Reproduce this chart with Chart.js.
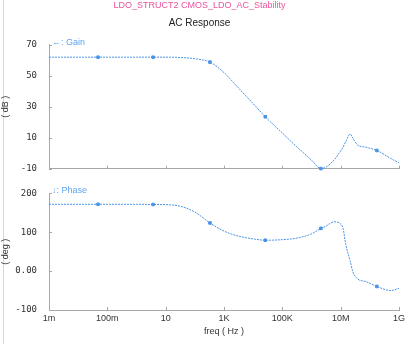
<!DOCTYPE html>
<html>
<head>
<meta charset="utf-8">
<script src="https://cdn.jsdelivr.net/npm/chart.js@4.4.1/dist/chart.umd.min.js"></script>
<style>
  body { margin: 0; background: #fff; }
  #wrap { position: relative; width: 412px; height: 344px; overflow: hidden; background: #fff; }
  #edge { position: absolute; left: 3px; top: 0; width: 1px; height: 344px; background: #d8d8d8; }
  #gainChart { position: absolute; left: 0; top: 0; }
  #phaseChart { position: absolute; left: 0; top: 176px; }
</style>
</head>
<body>
<div id="wrap">
  <div id="edge"></div>
  <canvas id="gainChart" width="412" height="186"></canvas>
  <canvas id="phaseChart" width="412" height="168"></canvas>
</div>
<script>
// values
const freq = [1e-3, 1e-2, 0.048, 1, 3.7, 10, 31.6, 100, 330, 1e3, 3.16e3, 1e4, 2.6e4, 1e5, 3.16e5,
  1e6, 2.1e6, 3.16e6, 5.9e6, 1e7, 1.2e7, 1.5e7, 2.1e7, 2.6e7, 3.8e7, 7.4e7, 1.74e8, 5.3e8, 1e9];
const gainDb = [62, 62, 62, 62, 62, 62, 61.8, 61, 58.8, 52, 42, 32, 23.5, 13, 4,
  -4.5, -10, -9, -4.5, 1.4, 3.8, 7.5, 12.3, 9.7, 5.3, 3.8, 1.7, -3.5, -6.3];
const phaseDeg = [172, 172, 172, 172, 171.5, 171, 167, 152, 124, 103, 90, 83, 79.5, 81, 85,
  96, 110, 116, 127, 121, 111, 68, 27, -1, -20, -27, -39.5, -50, -44];
const markerFreq = [0.048, 3.7, 330, 2.6e4, 2.1e6, 1.74e8];

const freqTicks = [1e-3, 1e-1, 10, 1e3, 1e5, 1e7, 1e9];
const freqTickLabels = ['1m', '100m', '10', '1K', '100K', '10M', '1G'];
const gainTicks = [-10, 10, 30, 50, 70];
const gainTickLabels = ['-10', '10', '30', '50', '70'];
const phaseTicks = [-100, 0, 100, 200];
const phaseTickLabels = ['-100', '0.00', '100', '200'];

const LINE = '#4a93e6';
const AXIS = '#a8a8a8';
const TEXT = '#333';

// small tick marks drawn inside the plot, like the simulator output
const innerTicks = {
  id: 'innerTicks',
  afterDraw(chart) {
    const { ctx, chartArea: a, scales: { x, y } } = chart;
    ctx.save();
    ctx.strokeStyle = AXIS;
    ctx.lineWidth = 1;
    ctx.beginPath();
    x.ticks.forEach(t => {
      const px = Math.round(x.getPixelForValue(t.value)) + 0.5;
      ctx.moveTo(px, a.bottom);
      ctx.lineTo(px, a.bottom - 3);
    });
    y.ticks.forEach(t => {
      const py = Math.round(y.getPixelForValue(t.value)) + 0.5;
      ctx.moveTo(a.left, py);
      ctx.lineTo(a.left + 3, py);
    });
    ctx.stroke();
    ctx.restore();
  }
};

const curveLabel = {
  id: 'curveLabel',
  afterDraw(chart, args, opts) {
    const { ctx, chartArea: a } = chart;
    ctx.save();
    ctx.font = '9px "Liberation Sans"';
    ctx.fillStyle = '#5fa3ee';
    ctx.textBaseline = 'middle';
    ctx.fillText(opts.text, a.left + 3, a.top - opts.dy);
    ctx.restore();
  }
};

function xAxis(showLabels) {
  return {
    type: 'logarithmic',
    min: 1e-3,
    max: 1e9,
    afterBuildTicks: s => { s.ticks = freqTicks.map(v => ({ value: v })); },
    afterFit: s => { s.height = showLabels ? 26 : 0; },
    ticks: {
      display: showLabels,
      autoSkip: false,
      maxRotation: 0,
      padding: 4,
      color: TEXT,
      font: { family: '"Liberation Sans Narrow", "Liberation Sans"', size: 9, lineHeight: 1 },
      callback: v => freqTickLabels[freqTicks.indexOf(v)]
    },
    grid: { display: true, drawOnChartArea: false, drawTicks: false },
    border: { display: true, color: AXIS },
    title: {
      display: showLabels,
      text: 'freq ( Hz )',
      color: TEXT,
      padding: { top: 2, bottom: 0 },
      font: { family: '"Liberation Sans"', size: 9, lineHeight: 1 }
    }
  };
}

function yAxis(min, max, ticks, labels, title) {
  return {
    min: min,
    max: max,
    afterFit: s => { s.width = 49; },
    afterBuildTicks: s => { s.ticks = ticks.map(v => ({ value: v })); },
    ticks: {
      padding: 12,
      color: TEXT,
      font: { family: '"DejaVu Sans Mono"', size: 9 },
      callback: v => labels[ticks.indexOf(v)]
    },
    grid: { display: true, drawOnChartArea: false, drawTicks: false },
    border: { display: true, color: AXIS },
    title: {
      display: true,
      text: title,
      color: TEXT,
      padding: { top: 0, bottom: 0 },
      font: { family: '"Liberation Sans"', size: 9 }
    }
  };
}

function curve(values, label) {
  return {
    label: label,
    data: freq.map((f, i) => ({ x: f, y: values[i] })),
    borderColor: LINE,
    backgroundColor: LINE,
    borderWidth: 1,
    borderDash: [2, 1],
    cubicInterpolationMode: 'monotone',
    pointRadius: ctx => markerFreq.includes(freq[ctx.dataIndex]) ? 1.8 : 0,
    pointStyle: 'rect',
    fill: false,
    clip: 4
  };
}

new Chart(document.getElementById('gainChart'), {
  type: 'line',
  data: { datasets: [curve(gainDb, 'Gain')] },
  options: {
    responsive: false,
    animation: false,
    layout: { padding: { left: 0, right: 13, top: 0, bottom: 11 } },
    plugins: {
      legend: { display: false },
      tooltip: { enabled: false },
      title: {
        display: true,
        text: 'LDO_STRUCT2 CMOS_LDO_AC_Stability',
        color: '#e8559f',
        padding: { top: 0, bottom: 6 },
        font: { family: '"Liberation Sans Narrow", "Liberation Sans"', size: 9, weight: 'normal' }
      },
      subtitle: {
        display: true,
        text: 'AC Response',
        color: '#222',
        padding: { top: 0, bottom: 16 },
        font: { family: '"Liberation Sans"', size: 10 }
      },
      curveLabel: { text: '\u2190: Gain', dy: 2 }
    },
    scales: {
      x: xAxis(false),
      y: yAxis(-10, 70, gainTicks, gainTickLabels, '( dB )')
    }
  },
  plugins: [innerTicks, curveLabel]
});

new Chart(document.getElementById('phaseChart'), {
  type: 'line',
  data: { datasets: [curve(phaseDeg, 'Phase')] },
  options: {
    responsive: false,
    animation: false,
    layout: { padding: { left: 0, right: 13, top: 16, bottom: 8 } },
    plugins: {
      legend: { display: false },
      tooltip: { enabled: false },
      curveLabel: { text: '\u2193: Phase', dy: 3 }
    },
    scales: {
      x: xAxis(true),
      y: yAxis(-100, 200, phaseTicks, phaseTickLabels, '( deg )')
    }
  },
  plugins: [innerTicks, curveLabel]
});
</script>
</body>
</html>
